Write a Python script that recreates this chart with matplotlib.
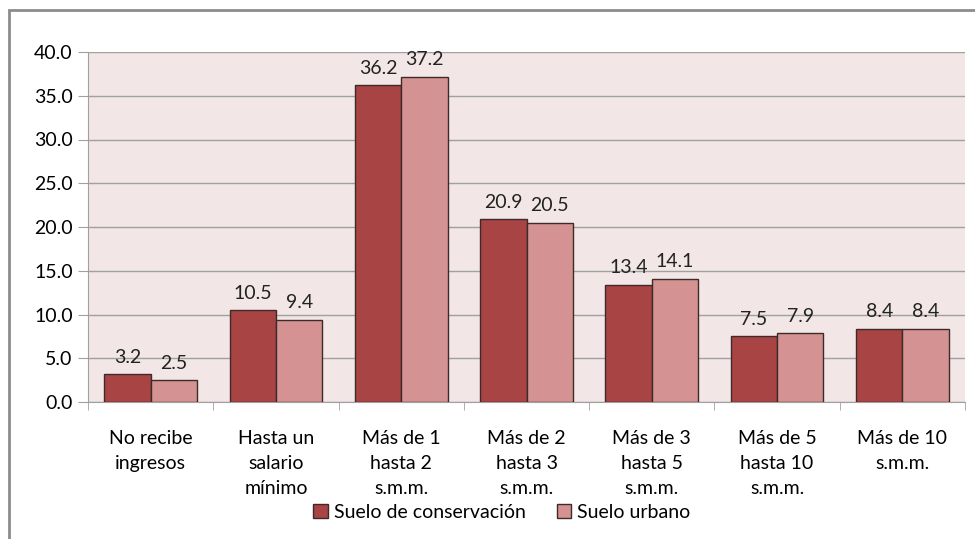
import numpy as np
import matplotlib.pyplot as plt
from matplotlib.patches import Rectangle

categories = ["No recibe\ningresos", "Hasta un\nsalario\nmínimo", "Más de 1\nhasta 2\ns.m.m.",
              "Más de 2\nhasta 3\ns.m.m.", "Más de 3\nhasta 5\ns.m.m.", "Más de 5\nhasta 10\ns.m.m.",
              "Más de 10\ns.m.m."]
conservacion = [3.2, 10.5, 36.2, 20.9, 13.4, 7.5, 8.4]
urbano = [2.5, 9.4, 37.2, 20.5, 14.1, 7.9, 8.4]
yticks = [0, 5, 10, 15, 20, 25, 30, 35, 40]

plt.rcParams['font.family'] = ['Lato', 'DejaVu Sans']
fs = 14

fig = plt.figure(figsize=(9.75, 5.39), dpi=100)
# outer chart border
fig.patches.append(Rectangle((9 / 975, -0.01), 1.0, 1 - 10 / 539 + 0.01, transform=fig.transFigure,
                             fill=False, edgecolor="#8c8c8c", linewidth=2))

ax = fig.add_axes([88 / 975, 1 - 402 / 539, (965 - 88) / 975, (402 - 52) / 539])
ax.set_facecolor("#F2E6E6")

x = np.arange(len(categories))
w = 0.37
b1 = ax.bar(x - w / 2, conservacion, w, color="#A84444", edgecolor="#3f2a2a", linewidth=1, zorder=3,
            label="Suelo de conservación")
b2 = ax.bar(x + w / 2, urbano, w, color="#D49292", edgecolor="#3f2a2a", linewidth=1, zorder=3,
            label="Suelo urbano")

for bars, vals in ((b1, conservacion), (b2, urbano)):
    for r, v in zip(bars, vals):
        ax.annotate(f"{v:.1f}", (r.get_x() + r.get_width() / 2, v), xytext=(0, 6),
                    textcoords="offset points", ha="center", va="bottom", fontsize=fs, color="#222222")

ax.set_ylim(0, 40)
ax.set_xlim(-0.5, len(categories) - 0.5)
ax.set_yticks(yticks)
ax.set_yticklabels([f"{t:.1f}" for t in yticks], fontsize=fs)
ax.yaxis.grid(True, color="#a0a0a0", linewidth=1, zorder=0)
ax.set_axisbelow(True)

ax.set_xticks(x)
ax.set_xticklabels(categories, fontsize=fs, linespacing=1.58, va="top")
ax.tick_params(axis="x", length=0, pad=20)
ax.set_xticks(np.arange(-0.5, len(categories) + 0.5, 1), minor=True)
ax.tick_params(axis="x", which="minor", length=6, color="#a0a0a0")
ax.tick_params(axis="y", length=7, color="#a0a0a0", pad=4)

for s in ["top", "right"]:
    ax.spines[s].set_visible(False)
ax.spines["left"].set_color("#a0a0a0")
ax.spines["bottom"].set_color("#a0a0a0")

fig.legend(handles=[b1, b2], loc="center", bbox_to_anchor=(502 / 975, 1 - 512 / 539), ncol=2,
           frameon=False, fontsize=fs, handlelength=0.75, handleheight=0.75, handletextpad=0.3,
           columnspacing=1.6)

fig.savefig("out.png", dpi=100)
